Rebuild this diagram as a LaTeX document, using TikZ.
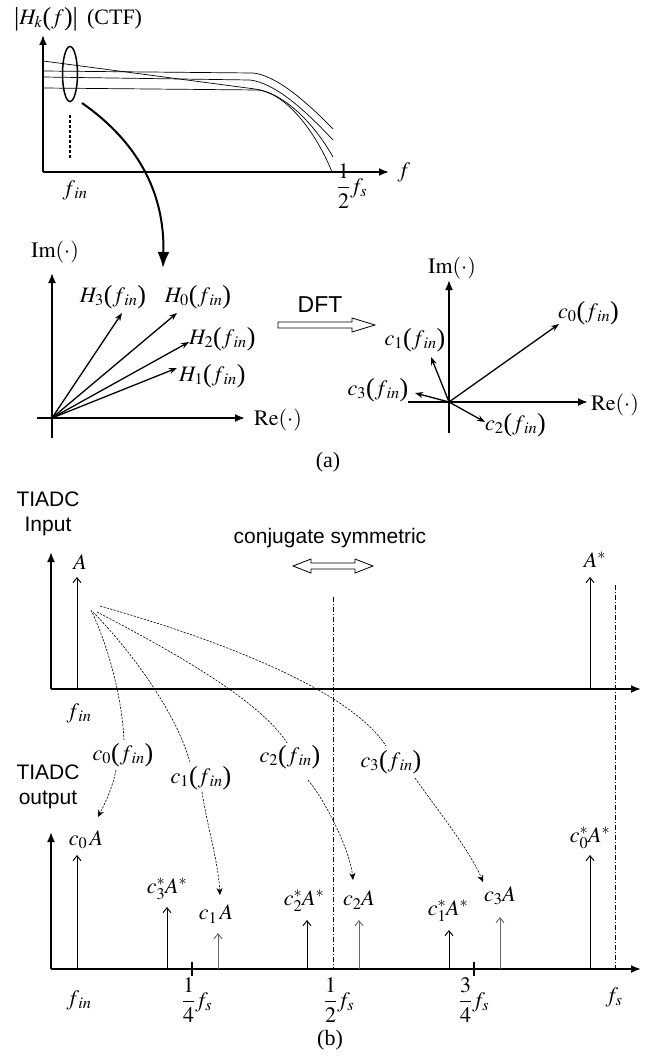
\documentclass[tikz,border=0pt]{standalone}
\usepackage{mathptmx}
\usepackage{fontspec}
\setmainfont{Liberation Serif}
\setsansfont{Liberation Sans}
\usetikzlibrary{arrows.meta,shapes.geometric}
\newcommand{\fin}{f_{\,in}}
\newcommand{\lpar}{\mbox{\raisebox{-1pt}{\fontsize{26}{26}\selectfont(}}}
\newcommand{\rpar}{\mbox{\raisebox{-1pt}{\fontsize{26}{26}\selectfont)}}}
\newcommand{\vbar}{\mbox{\raisebox{-1pt}{\fontsize{26}{26}\selectfont|}}}
\newcommand{\pfin}{\lpar\fin\rpar}
\begin{document}
\begin{tikzpicture}[x=1pt,y=-1pt,
  lbl/.style={inner sep=0pt,font=\fontsize{22}{26}\selectfont},
  slbl/.style={inner sep=0pt,font=\sffamily\fontsize{21}{25}\selectfont,align=center},
  axis/.style={line width=1.8pt,-{Latex[length=10pt,width=8pt]}},
  curve/.style={line width=0.7pt},
  vec/.style={line width=1.3pt,-{Stealth[length=8pt,width=6pt]}},
  imp/.style={line width=0.9pt,-{Straight Barb[length=5pt,width=8pt]}},
  impg/.style={imp,draw=black!60},
  dline/.style={line width=0.6pt,dash pattern=on 2.2pt off 1.3pt},
  darr/.style={dline,-{Stealth[length=7pt,width=6pt]}},
  ddot/.style={line width=0.6pt,dash pattern=on 5pt off 2pt on 1pt off 2pt},
  hollow/.style={line width=0.8pt,fill=white},
]
\useasboundingbox (0,0) rectangle (658,1062);

% ================= Panel (a), magnitude =================
\coordinate (o0) at (43,172);
\coordinate (yt0) at (43,35);
\coordinate (xt0) at (389,172);
\draw[axis] (o0) -- (yt0);
\draw[axis] (o0) -- (xt0);
\node[lbl,anchor=west] (ctf) at (14,19) {$\vbar H_k\lpar f\rpar\vbar$ \,(CTF)};
\node[lbl] (fax) at (404,172) {$f$};
\node[lbl] (fin0) at (75,190) {$\fin$};
\node[lbl] (half0) at (352,186) {$\displaystyle\frac{1}{2}f_s$};
\draw[curve] (43,61) -- (255,89) .. controls (285,93) and (315,125) .. (333,157);
\draw[curve] (43,71) -- (253,73) .. controls (275,75) and (305,100) .. (333,129);
\draw[curve] (43,77) -- (250,80) .. controls (275,83) and (305,110) .. (333,140);
\draw[curve] (43,88) -- (258,90) .. controls (285,93) and (315,130) .. (332,172);
\node[draw,ellipse,line width=1.5pt,minimum width=15pt,minimum height=55pt,inner sep=0pt] (ell) at (70,74) {};
\coordinate (dsh1) at (70,115);
\coordinate (dsh2) at (70,158);
\draw[line width=1.3pt,densely dashed] (dsh1) -- (dsh2);
\coordinate (arst) at (82,103);
\coordinate (tip1) at (163,268);
\draw[line width=2pt,-{Latex[length=16pt,width=12pt]}] (arst) .. controls (135,140) and (165,190) .. (tip1);

% ================= Panel (a), left complex plane =================
\coordinate (O1) at (52,418);
\coordinate (imb1) at (52,438);
\coordinate (imt1) at (52,273);
\coordinate (reb1) at (37,418);
\coordinate (ret1) at (245,418);
\draw[axis] (imb1) -- (imt1);
\draw[axis] (reb1) -- (ret1);
\node[lbl] (im1) at (55,252) {$\mathrm{Im}(\cdot)$};
\node[lbl] (re1) at (278,420) {$\mathrm{Re}(\cdot)$};
\node[lbl] (H3) at (113,297) {$H_3\pfin$};
\node[lbl] (H0) at (198,297) {$H_0\pfin$};
\node[lbl,anchor=west] (H2) at (189,339) {$H_2\pfin$};
\node[lbl,anchor=west] (H1) at (179,376) {$H_1\pfin$};
\coordinate (h3) at (122,313);
\coordinate (h0) at (177,313);
\coordinate (h2) at (189,342);
\coordinate (h1) at (177,368);
\draw[vec] (O1) -- (h3);
\draw[vec] (O1) -- (h0);
\draw[vec] (O1) -- (h2);
\draw[vec] (O1) -- (h1);

% DFT arrow
\node[slbl,font=\sffamily\fontsize{23}{26}\selectfont] (dft) at (320,305) {DFT};
\draw[hollow] (278,322) -- (352,322) -- (352,318) -- (375,325) -- (352,332) -- (352,328) -- (278,328) -- cycle;

% ================= Panel (a), right complex plane =================
\coordinate (O2) at (449,402);
\coordinate (imb2) at (449,433);
\coordinate (imt2) at (449,280);
\coordinate (reb2) at (408,402);
\coordinate (ret2) at (588,402);
\draw[axis] (imb2) -- (imt2);
\draw[axis] (reb2) -- (ret2);
\node[lbl] (im2) at (452,268) {$\mathrm{Im}(\cdot)$};
\node[lbl] (re2) at (615,405) {$\mathrm{Re}(\cdot)$};
\node[lbl,anchor=west] (C0) at (558,313) {$c_0\pfin$};
\node[lbl] (C1) at (415,340) {$c_1\pfin$};
\node[lbl] (C3) at (378,390) {$c_3\pfin$};
\node[lbl,anchor=west] (C2) at (485,425) {$c_2\pfin$};
\coordinate (k0) at (559,324);
\coordinate (k1) at (431,357);
\coordinate (k3) at (415,393);
\coordinate (k2) at (485,422);
\draw[vec] (O2) -- (k0);
\draw[vec] (O2) -- (k1);
\draw[vec] (O2) -- (k3);
\draw[vec] (O2) -- (k2);
\node[lbl] (capa) at (328,462) {(a)};

% ================= Panel (b), input =================
\node[slbl] (tin) at (48,514) {TIADC\\Input};
\node[slbl] (conj) at (330,538) {conjugate symmetric};
\draw[hollow] (293,566) -- (311,559) -- (311,563) -- (355,563) -- (355,559) -- (373,566) -- (355,573) -- (355,569) -- (311,569) -- (311,573) -- cycle;
\coordinate (o3) at (51,689);
\coordinate (yt3) at (51,552);
\coordinate (xt3) at (641,689);
\draw[axis] (o3) -- (yt3);
\draw[axis] (o3) -- (xt3);
\coordinate (Ab) at (77,689);
\coordinate (At) at (77,577);
\coordinate (Asb) at (590,689);
\coordinate (Ast) at (590,577);
\draw[imp] (Ab) -- (At);
\draw[imp] (Asb) -- (Ast);
\node[lbl] (Al) at (80,562) {$A$};
\node[lbl] (Asl) at (595,560) {$A^{*}$};
\node[lbl] (fin3) at (79,713) {$\fin$};
\coordinate (hd1) at (333,597);
\coordinate (hd2) at (333,969);
\coordinate (fd1) at (615,585);
\coordinate (fd2) at (615,969);
\draw[ddot] (hd1) -- (hd2);
\draw[ddot] (fd1) -- (fd2);

% coefficient labels
\node[lbl] (L0) at (123,755) {$c_0\pfin$};
\node[lbl] (L1) at (201,778) {$c_1\pfin$};
\node[lbl] (L2) at (290,757) {$c_2\pfin$};
\node[lbl] (L3) at (391,762) {$c_3\pfin$};
\coordinate (s0) at (91,610);
\coordinate (s1) at (93,612);
\coordinate (s2) at (97,612);
\coordinate (s3) at (100,606);
\coordinate (u0) at (124,740);
\coordinate (u1) at (190,762);
\coordinate (u2) at (287,743);
\coordinate (u3) at (386,746);
\draw[dline] (s0) .. controls (110,650) and (122,700) .. (u0);
\draw[dline] (s1) .. controls (130,650) and (175,710) .. (u1);
\draw[dline] (s2) .. controls (170,650) and (260,700) .. (u2);
\draw[dline] (s3) .. controls (220,640) and (350,690) .. (u3);

% ================= Panel (b), output =================
\node[slbl] (tout) at (48,787) {TIADC\\output};
\coordinate (o4) at (51,969);
\coordinate (yt4) at (51,832);
\coordinate (xt4) at (641,969);
\draw[axis] (o4) -- (yt4);
\draw[axis] (o4) -- (xt4);
\coordinate (q1a) at (192,962); \coordinate (q1b) at (192,976);
\coordinate (q3a) at (474,962); \coordinate (q3b) at (474,976);
\draw[line width=1.6pt] (q1a) -- (q1b);
\draw[line width=1.6pt] (q3a) -- (q3b);

\coordinate (p0b) at (77,969);  \coordinate (p0t) at (77,855);
\coordinate (p3b) at (167,969); \coordinate (p3t) at (167,907);
\coordinate (p1b) at (218,969); \coordinate (p1t) at (218,933);
\coordinate (p2b) at (307,969); \coordinate (p2t) at (307,920);
\coordinate (r2b) at (359,969); \coordinate (r2t) at (359,920);
\coordinate (r1b) at (449,969); \coordinate (r1t) at (449,930);
\coordinate (r3b) at (500,969); \coordinate (r3t) at (500,917);
\coordinate (r0b) at (590,969); \coordinate (r0t) at (590,855);
\draw[imp] (p0b) -- (p0t);
\draw[imp] (p3b) -- (p3t);
\draw[impg] (p1b) -- (p1t);
\draw[imp] (p2b) -- (p2t);
\draw[impg] (r2b) -- (r2t);
\draw[imp] (r1b) -- (r1t);
\draw[impg] (r3b) -- (r3t);
\draw[imp] (r0b) -- (r0t);
\node[lbl] (P0) at (86,840) {$c_0\,A$};
\node[lbl] (P3) at (167,889) {$c_3^{*}A^{*}$};
\node[lbl] (P1) at (216,914) {$c_1\,A$};
\node[lbl] (P2) at (304,901) {$c_2^{*}A^{*}$};
\node[lbl] (R2) at (359,900) {$c_2A$};
\node[lbl] (R1) at (448,911) {$c_1^{*}A^{*}$};
\node[lbl] (R3) at (500,896) {$c_3A$};
\node[lbl] (R0) at (590,838) {$c_0^{*}A^{*}$};

\coordinate (e0) at (98,817);
\coordinate (e1) at (220,895);
\coordinate (e2) at (353,880);
\coordinate (e3) at (483,882);
\coordinate (v0) at (116,770);
\coordinate (v1) at (202,792);
\coordinate (v2) at (308,780);
\coordinate (v3) at (415,778);
\draw[darr] (v0) .. controls (112,790) and (104,805) .. (e0);
\draw[darr] (v1) .. controls (208,830) and (218,860) .. (e1);
\draw[darr] (v2) .. controls (325,800) and (350,850) .. (e2);
\draw[darr] (v3) .. controls (430,800) and (470,850) .. (e3);

\node[lbl] (fin4) at (79,1000) {$\fin$};
\node[lbl] (q1l) at (197,1000) {$\displaystyle\frac{1}{4}f_s$};
\node[lbl] (q2l) at (339,1000) {$\displaystyle\frac{1}{2}f_s$};
\node[lbl] (q3l) at (474,1000) {$\displaystyle\frac{3}{4}f_s$};
\node[lbl] (fsl) at (614,997) {$f_s$};
\node[lbl] (capb) at (330,1040) {(b)};
\end{tikzpicture}
\end{document}
